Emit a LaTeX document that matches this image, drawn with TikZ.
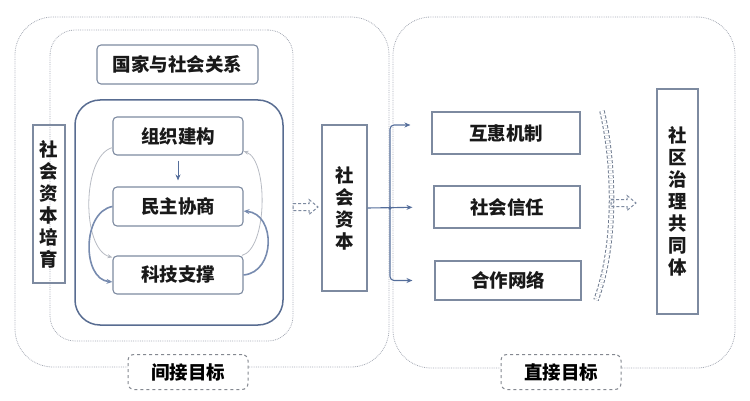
\documentclass[tikz,border=0pt]{standalone}
\usepackage{fontspec}
\newfontfamily\cjk{Noto Sans CJK SC}
\usetikzlibrary{arrows.meta}
\definecolor{boxline}{RGB}{125,138,160}
\definecolor{blueline}{RGB}{88,108,145}
\definecolor{arrowc}{RGB}{85,110,155}
\definecolor{frameline}{RGB}{165,170,180}
\begin{document}
\begin{tikzpicture}[x=1pt,y=-1pt,
	font=\cjk\bfseries\fontsize{18.5}{22}\selectfont,
	frame/.style={draw=frameline,densely dotted,line width=0.8pt,rounded corners=38pt},
	box/.style={draw=boxline,line width=1.1pt,inner sep=0pt,text=black!90},
	rbox/.style={box,rounded corners=4pt},
	tag/.style={draw=frameline!80!black,dashed,line width=1pt,rounded corners=6pt,fill=white,minimum width=120pt,minimum height=35pt},
	hollow/.style={draw=boxline,dash pattern=on 3pt off 2pt,line width=1pt},
	flow/.style={draw=arrowc,line width=1.1pt,-{Stealth[length=6pt,width=5pt]}},
	thin/.style={draw=frameline!80,line width=0.8pt,-{Stealth[length=5pt,width=4pt]}},
	thick/.style={draw=arrowc!80,line width=1.6pt,-{Stealth[length=6pt,width=5pt]}}]
	\useasboundingbox (0,0) rectangle (750,401);
	
	% containers
	\node[frame,minimum width=374pt,minimum height=350pt] (indirect) at (202,192) {};
	\node[frame,minimum width=342pt,minimum height=351pt] (direct) at (564,192.5) {};
	\node[frame,rounded corners=25pt,minimum width=243pt,minimum height=311pt] (inner) at (171.5,185.5) {};
	\node[draw=blueline,line width=1.5pt,rounded corners=25pt,minimum width=208pt,minimum height=225pt] (core) at (179,212.5) {};
	
	% left part
	\node[rbox,minimum width=161pt,minimum height=39pt] (guojia) at (177.5,64.5) {国家与社会关系};
	\node[box,minimum width=32pt,minimum height=158pt,align=center] (peiyu) at (49,204) {社\\会\\资\\本\\培\\育};
	\node[rbox,minimum width=130pt,minimum height=38pt] (zuzhi) at (178,136) {组织建构};
	\node[rbox,minimum width=130pt,minimum height=39pt] (minzhu) at (178,206.5) {民主协商};
	\node[rbox,minimum width=130pt,minimum height=38pt] (keji) at (178,275) {科技支撑};
	\node[box,minimum width=45pt,minimum height=166pt,align=center] (ziben) at (344.5,208) {社\\会\\资\\本};
	
	% right part
	\node[box,minimum width=148pt,minimum height=42pt] (huhui) at (506,133) {互惠机制};
	\node[box,minimum width=146pt,minimum height=42pt] (xinren) at (507,207) {社会信任};
	\node[box,minimum width=146pt,minimum height=39pt] (hezuo) at (508,280.5) {合作网络};
	\node[box,minimum width=41pt,minimum height=225pt,align=center] (gongtong) at (677.5,201.5) {社\\区\\治\\理\\共\\同\\体};
	
	% goals
	\node[tag] (jianjie) at (188,372) {间接目标};
	\node[tag] (zhijie) at (561,372) {直接目标};
	
	% inner arrows
	\draw[flow,line width=0.9pt,shorten <=5pt,shorten >=6pt] (zuzhi) -- (minzhu);
	\draw[thin] (zuzhi.190) to[out=195,in=165,looseness=0.75] (keji.165);
	\draw[thick] (minzhu.west) to[out=190,in=175,looseness=1.05] (keji.186);
	\draw[thin] (keji.17) to[out=15,in=-20,looseness=0.65] (zuzhi.-13);
	\draw[thick] (keji.east) to[out=5,in=-5,looseness=1.3] (minzhu.-4);
	
	% hollow arrow to social capital
	\coordinate (toziben) at (293,207);
	\draw[hollow] (toziben) ++(0,-3.5) -- ++(16,0) -- ++(0,-4) -- ++(9,7.5) -- ++(-9,7.5) -- ++(0,-4) -- ++(-16,0) -- cycle;
	
	% branches
	\coordinate (fork) at (390,208);
	\draw[flow,shorten >=21pt] (ziben.east) -- (xinren.west);
	\draw[flow,rounded corners=4pt] (fork) |- ([xshift=-21pt,yshift=8pt]huhui.west);
	\draw[flow,rounded corners=4pt] (fork) |- ([xshift=-22pt]hezuo.west);
	\fill[arrowc] (fork) circle (1.8pt);
	
	% bracket
	\draw[boxline!90!black,dash pattern=on 3pt off 2pt,line width=1pt,double=white,double distance=3.5pt] (602,111) .. controls (616,170) and (615,250) .. (596,300);
	\coordinate (togongtong) at (611,203);
	\draw[hollow] (togongtong) ++(0,-3.5) -- ++(16,0) -- ++(0,-4) -- ++(9,7.5) -- ++(-9,7.5) -- ++(0,-4) -- ++(-16,0) -- cycle;
\end{tikzpicture}
\end{document}
